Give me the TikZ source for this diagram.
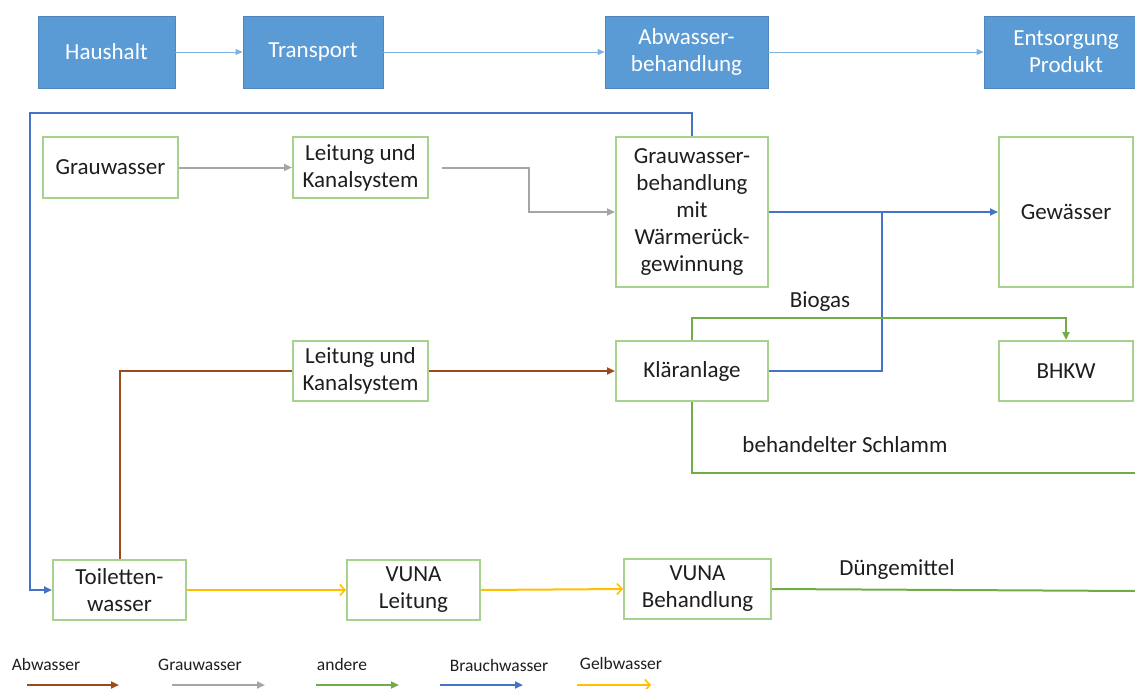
\documentclass[tikz,border=0pt]{standalone}
\usepackage{fontspec}
\setmainfont{Carlito}
\usetikzlibrary{arrows.meta}
\definecolor{topfill}{HTML}{5B9BD5}
\definecolor{topdraw}{HTML}{4F86BC}
\definecolor{boxgreen}{HTML}{A9D18E}
\definecolor{cbrown}{HTML}{9C4A1A}
\definecolor{cgray}{HTML}{A5A5A5}
\definecolor{cgreen}{HTML}{70AD47}
\definecolor{cblue}{HTML}{4472C4}
\definecolor{cyellow}{HTML}{FFC000}
\definecolor{ctop}{HTML}{7FB0E0}
\definecolor{txt}{HTML}{1E1E1E}
\begin{document}
\begin{tikzpicture}[x=1pt,y=-1pt,
  topbox/.style={draw=topdraw,fill=topfill,line width=0.8pt,text=white,inner sep=0pt,align=center,minimum height=72pt,font=\fontsize{23}{27}\selectfont},
  gbox/.style={draw=boxgreen,line width=2pt,fill=white,text=txt,inner sep=0pt,align=center,font=\fontsize{23}{27}\selectfont},
  lbl/.style={text=txt,inner sep=0pt,font=\fontsize{23}{27}\selectfont},
  leg/.style={text=txt,inner sep=0pt,font=\fontsize{17.5}{20}\selectfont},
  fl/.style={line width=2pt,-{Triangle[length=8pt,width=7pt]}},
  yl/.style={line width=2pt,draw=cyellow,-{Straight Barb[length=5pt,width=11pt,line width=1.6pt]}},
  topconn/.style={draw=ctop,line width=1pt,-{Triangle[length=7pt,width=6pt]}}
]
\useasboundingbox (0,0) rectangle (1135,688);
% top row
\node[topbox,minimum width=137pt] (h) at (106.5,52) {Haushalt};
\node[topbox,minimum width=140pt] (t) at (313,52) {Transport};
\node[topbox,minimum width=163pt] (a) at (686.5,52) {Abwasser-\\behandlung};
\node[topbox,minimum width=164pt] (e) at (1066,52) {Entsorgung\\Produkt};
\draw[topconn] (h.east) -- (t.west);
\draw[topconn] (t.east) -- (a.west);
\draw[topconn] (a.east) -- (e.west);
% green boxes
\node[gbox,minimum width=135pt,minimum height=61pt] (gw) at (110.5,167.5) {Grauwasser};
\node[gbox,minimum width=135pt,minimum height=61pt] (l1) at (360.5,167.5) {Leitung und\\Kanalsystem};
\node[gbox,minimum width=152pt,minimum height=150pt] (gwb) at (692,212) {Grauwasser-\\behandlung\\mit\\Wärmerück-\\gewinnung};
\node[gbox,minimum width=134pt,minimum height=150pt] (gew) at (1066,212) {Gewässer};
\node[gbox,minimum width=135pt,minimum height=60pt] (l2) at (360.5,371) {Leitung und\\Kanalsystem};
\node[gbox,minimum width=152pt,minimum height=60pt] (kl) at (692,371) {Kläranlage};
\node[gbox,minimum width=134pt,minimum height=60pt] (bhkw) at (1066,371) {BHKW};
\node[gbox,minimum width=133pt,minimum height=60pt] (tw) at (119.5,590) {Toiletten-\\wasser};
\node[gbox,minimum width=133pt,minimum height=60pt] (vl) at (413.5,590) {VUNA\\Leitung};
\node[gbox,minimum width=147pt,minimum height=60pt] (vb) at (697.5,589) {VUNA\\Behandlung};
% coordinates
\coordinate (j) at (882,212);
\coordinate (bl) at (30,113);
\coordinate (bg) at (1066,318);
\coordinate (se) at (1135,473);
\coordinate (de) at (1135,591);
% grey
\draw[fl,draw=cgray] (gw.east) -- (l1.west);
\draw[fl,draw=cgray] ([xshift=13pt]l1.east) -- ([xshift=100pt]l1.east) |- (gwb.west);
% blue
\draw[fl,draw=cblue] (gwb.east) -- (gew.west);
\draw[line width=2pt,draw=cblue] (kl.east) -| (j);
\draw[fl,draw=cblue] (gwb.north) |- (bl) |- (tw.west);
% brown
\draw[line width=2pt,draw=cbrown] (tw.north) |- (l2.west);
\draw[fl,draw=cbrown] (l2.east) -- (kl.west);
% green
\draw[fl,draw=cgreen] (kl.north) |- (bg) -- (bhkw.north);
\draw[line width=2pt,draw=cgreen] (kl.south) |- (se);
\draw[line width=2pt,draw=cgreen] (vb.east) -- (de);
% yellow
\draw[yl] (tw.east) -- (vl.west);
\draw[yl] (vl.east) -- (vb.west);
% labels
\node[lbl] (lbio) at (820,302) {Biogas};
\node[lbl] (lsch) at (845,445) {behandelter Schlamm};
\node[lbl] (ldue) at (897,569) {Düngemittel};
% legend
\node[leg] (t1) at (46,664) {Abwasser};
\node[leg] (t2) at (200,665) {Grauwasser};
\node[leg] (t3) at (342,664) {andere};
\node[leg] (t4) at (499,665) {Brauchwasser};
\node[leg] (t5) at (621,663) {Gelbwasser};
\coordinate (a1) at (27,685); \coordinate (b1) at (119,685);
\coordinate (a2) at (172,685); \coordinate (b2) at (265,685);
\coordinate (a3) at (316,685); \coordinate (b3) at (399,685);
\coordinate (a4) at (440,685); \coordinate (b4) at (523,685);
\coordinate (a5) at (577,685); \coordinate (b5) at (651,685);
\draw[fl,draw=cbrown] (a1) -- (b1);
\draw[fl,draw=cgray] (a2) -- (b2);
\draw[fl,draw=cgreen] (a3) -- (b3);
\draw[fl,draw=cblue] (a4) -- (b4);
\draw[yl] (a5) -- (b5);
\end{tikzpicture}
\end{document}
